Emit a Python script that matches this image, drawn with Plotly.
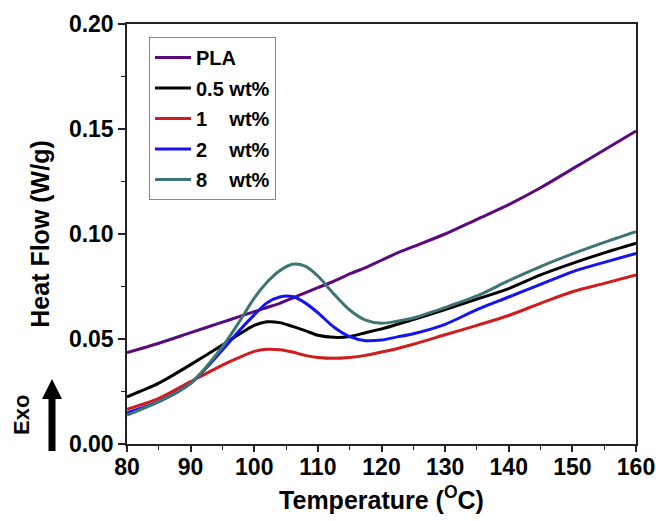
import plotly.graph_objects as go

temps = [80, 85, 90, 95, 97.5, 100, 102, 104, 106, 108, 110, 112.5, 115, 117.5, 120,
         122.5, 125, 130, 135, 140, 145, 150, 155, 160]

pla = [0.0435, 0.048, 0.0530, 0.058, 0.0605, 0.063, 0.065, 0.067, 0.0695, 0.072, 0.0745,
       0.0775, 0.081, 0.084, 0.0875, 0.091, 0.094, 0.100, 0.107, 0.114, 0.122, 0.131, 0.140, 0.149]
wt05 = [0.0225, 0.029, 0.0378, 0.0471, 0.052, 0.0565, 0.0582, 0.0578, 0.056, 0.054, 0.0518,
        0.0508, 0.0512, 0.053, 0.0548, 0.057, 0.0592, 0.064, 0.069, 0.074, 0.0805, 0.086, 0.091, 0.0956]
wt1 = [0.0165, 0.0217, 0.0297, 0.0376, 0.041, 0.0441, 0.0451, 0.0449, 0.0438, 0.0422, 0.0412,
       0.0408, 0.0412, 0.0422, 0.0438, 0.0455, 0.0475, 0.052, 0.0565, 0.0612, 0.067, 0.0725, 0.0765, 0.0805]
wt2 = [0.0149, 0.0202, 0.0289, 0.0448, 0.0535, 0.0615, 0.0672, 0.0700, 0.0702, 0.0672, 0.0625,
       0.0557, 0.0511, 0.0492, 0.0495, 0.051, 0.0525, 0.057, 0.064, 0.070, 0.076, 0.082, 0.0865, 0.0908]
wt8 = [0.0138, 0.0202, 0.0289, 0.0463, 0.0575, 0.0695, 0.077, 0.0825, 0.0856, 0.0847, 0.080,
       0.0715, 0.0638, 0.059, 0.0575, 0.0585, 0.060, 0.065, 0.0705, 0.0778, 0.0845, 0.0905, 0.096, 0.1011]

NB = "\u00a0"
names = ["PLA", "0.5 wt%", "1" + NB * 4 + "wt%", "2" + NB * 4 + "wt%", "8" + NB * 4 + "wt%"]
series = [pla, wt05, wt1, wt2, wt8]
colors = ["#5a0a7c", "#000000", "#d01c1c", "#1414f0", "#3e7474"]

fig = go.Figure()
for i, (nm, ys, c) in enumerate(zip(names, series, colors)):
    fig.add_trace(go.Scatter(x=temps, y=ys, mode="lines", name=nm,
                             line=dict(color=c, width=3, shape="spline", smoothing=0.8),
                             legendgroup=str(i)))

W, H = 656, 521
L, R, T, B = 127, 20, 24, 77
pw, ph = W - L - R, H - T - B

def px(x):
    return (x - L) / pw

def py(y):
    return (H - B - y) / ph

# Exo arrow (decoration)
arrow = (f"M {px(48.5)} {py(451)} L {px(55.5)} {py(451)} L {px(55.5)} {py(399)} "
         f"L {px(62)} {py(399)} L {px(52)} {py(379)} L {px(42)} {py(399)} "
         f"L {px(48.5)} {py(399)} Z")
fig.add_shape(type="path", xref="paper", yref="paper", path=arrow,
              fillcolor="black", line=dict(color="black", width=0))
fig.add_annotation(xref="paper", yref="paper", x=px(21), y=py(415), text="<b>Exo</b>",
                   showarrow=False, textangle=-90, xanchor="center", yanchor="middle",
                   font=dict(family="Arial, Liberation Sans", size=22, color="black"))

font = "Arial, Liberation Sans, sans-serif"
fig.update_layout(
    width=W, height=H,
    margin=dict(l=L, r=R, t=T, b=B, autoexpand=False),
    paper_bgcolor="white", plot_bgcolor="white",
    font=dict(family=font, color="black"),
    legend=dict(x=px(149), y=py(37), xanchor="left", yanchor="top",
                bordercolor="#888888", borderwidth=1, bgcolor="white",
                font=dict(size=20, family=font, color="black", weight="bold"),
                tracegroupgap=1.5, itemwidth=36),
    xaxis=dict(range=[80, 160], dtick=10, tick0=80, automargin=False,
               showline=True, linecolor="#222", linewidth=1.5, mirror=True,
               ticks="outside", ticklen=6, tickwidth=1.5, tickcolor="#222",
               ticklabelstandoff=-4,
               minor=dict(dtick=5, ticks="outside", ticklen=4, tickwidth=1.2, tickcolor="#222"),
               showgrid=False, zeroline=False,
               tickfont=dict(size=23, family=font, weight="bold"),
               title=dict(text="<b>Temperature (<sup>O</sup>C)</b>", standoff=12,
                          font=dict(size=25, family=font))),
    yaxis=dict(range=[0, 0.2], dtick=0.05, tick0=0, tickformat=".2f", automargin=False,
               showline=True, linecolor="#222", linewidth=1.5, mirror=True,
               ticks="outside", ticklen=7, tickwidth=1.5, tickcolor="#222",
               minor=dict(dtick=0.025, ticks="outside", ticklen=4, tickwidth=1.2, tickcolor="#222"),
               showgrid=False, zeroline=False,
               tickfont=dict(size=23, family=font, weight="bold"),
               title=dict(text="<b>Heat Flow (W/g)</b>", standoff=12,
                          font=dict(size=25, family=font))),
)

fig.write_html("out.html")
